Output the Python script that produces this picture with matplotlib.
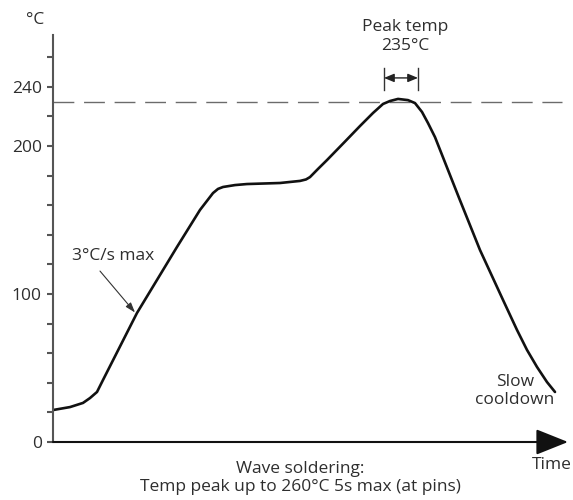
import numpy as np
import matplotlib.pyplot as plt

# temperature profile (time in arbitrary units, temperature in °C)
time = [0, 3.4, 6.0, 7.4, 8.8, 10.0, 16.8, 24.8, 29.4, 30.7, 32.0, 33.0, 34.0, 36.4,
        38.8, 45.4, 49.4, 50.6, 51.4, 53.0, 54.8, 58.4, 61.4, 64.0, 66.0, 67.4,
        69.0, 71.0, 72.4, 73.8, 75.0, 76.4, 81.2, 85.4, 90.0, 92.8, 94.8, 96.8,
        98.8, 100.4]
temp = [21.6, 23.6, 26.4, 29.7, 33.8, 41.9, 87.2, 131.8, 156.8, 162.5, 168.2, 171.0,
        172.3, 173.6, 174.3, 175.0, 176.4, 177.4, 179.0, 184.5, 190.5, 203.0, 213.5,
        222.3, 228.4, 230.4, 231.8, 231.0, 229.0, 223.0, 215.5, 206.0, 165.0, 129.7,
        96.0, 75.7, 62.2, 50.7, 40.5, 33.8]

peak_line = 230
yticks = list(range(0, 261, 20))
ylabels = ['0', '', '', '', '', '100', '', '', '', '', '200', '', '240', '']

plt.rcParams['font.family'] = ['Open Sans', 'DejaVu Sans']
txt = '#2e2e2e'
axc = '#555555'
fs = 12.5

fig = plt.figure(figsize=(5.73, 5.0), dpi=100)
ax = fig.add_axes([53 / 573, 58 / 500, 515 / 573, 407 / 500])
ax.set_xlim(0, 103)
ax.set_ylim(0, 275)

for s in ['top', 'right', 'bottom']:
    ax.spines[s].set_visible(False)
ax.spines['left'].set_color(axc)
ax.spines['left'].set_linewidth(1.5)
ax.set_xticks([])
ax.set_yticks(yticks)
ax.set_yticklabels(ylabels)
ax.tick_params(axis='y', direction='out', length=4, width=1.5, color=axc,
               labelsize=fs, labelcolor=txt, pad=4)

# x axis with arrow head
ax.annotate('', xy=(103, 0), xytext=(0, 0), annotation_clip=False,
            arrowprops=dict(arrowstyle='-|>,head_length=2.0,head_width=0.8',
                            mutation_scale=10, color='#111111', lw=1.5,
                            shrinkA=0, shrinkB=0))

# dashed peak line
ax.plot([0, 101.8], [peak_line, peak_line], color='#6b6b6b', lw=1.0,
        dashes=(15, 7))

# profile curve
ax.plot(time, temp, color='#111111', lw=1.9, solid_capstyle='round',
        solid_joinstyle='round')

# peak time bracket
for xb in [66.2, 73.0]:
    ax.plot([xb, xb], [238, 253], color='#333333', lw=1.0, clip_on=False)
ax.annotate('', xy=(66.2, 246), xytext=(73.0, 246), annotation_clip=False,
            arrowprops=dict(arrowstyle='<|-|>,head_length=0.6,head_width=0.25',
                            mutation_scale=10, color='#222222', lw=1.0,
                            shrinkA=0, shrinkB=0))
ax.text(70.4, 274, 'Peak temp\n235°C', ha='center', va='center', fontsize=fs,
        color=txt, linespacing=1.2, clip_on=False)

ax.text(-3.6, 285, '°C', ha='center', va='center', fontsize=fs, color=txt,
        clip_on=False)

# ramp annotation
ax.text(12.0, 126, '3°C/s max', ha='center', va='center', fontsize=fs, color=txt)
ax.annotate('', xy=(16.4, 87.5), xytext=(9.4, 115.5),
            arrowprops=dict(arrowstyle='-|>,head_length=0.6,head_width=0.2',
                            mutation_scale=10, color='#333333', lw=0.8,
                            shrinkA=0, shrinkB=0))

ax.text(92.4, 34.5, 'Slow\ncooldown', ha='center', va='center', fontsize=fs,
        color=txt, linespacing=1.2)
ax.text(99.8, -15.5, 'Time', ha='center', va='center', fontsize=fs, color=txt,
        clip_on=False)

fig.text(300 / 573, 1 - 478 / 500, 'Wave soldering:\nTemp peak up to 260°C 5s max (at pins)',
         ha='center', va='center', fontsize=fs, color=txt, linespacing=1.15)

fig.savefig('out.png', dpi=100)
